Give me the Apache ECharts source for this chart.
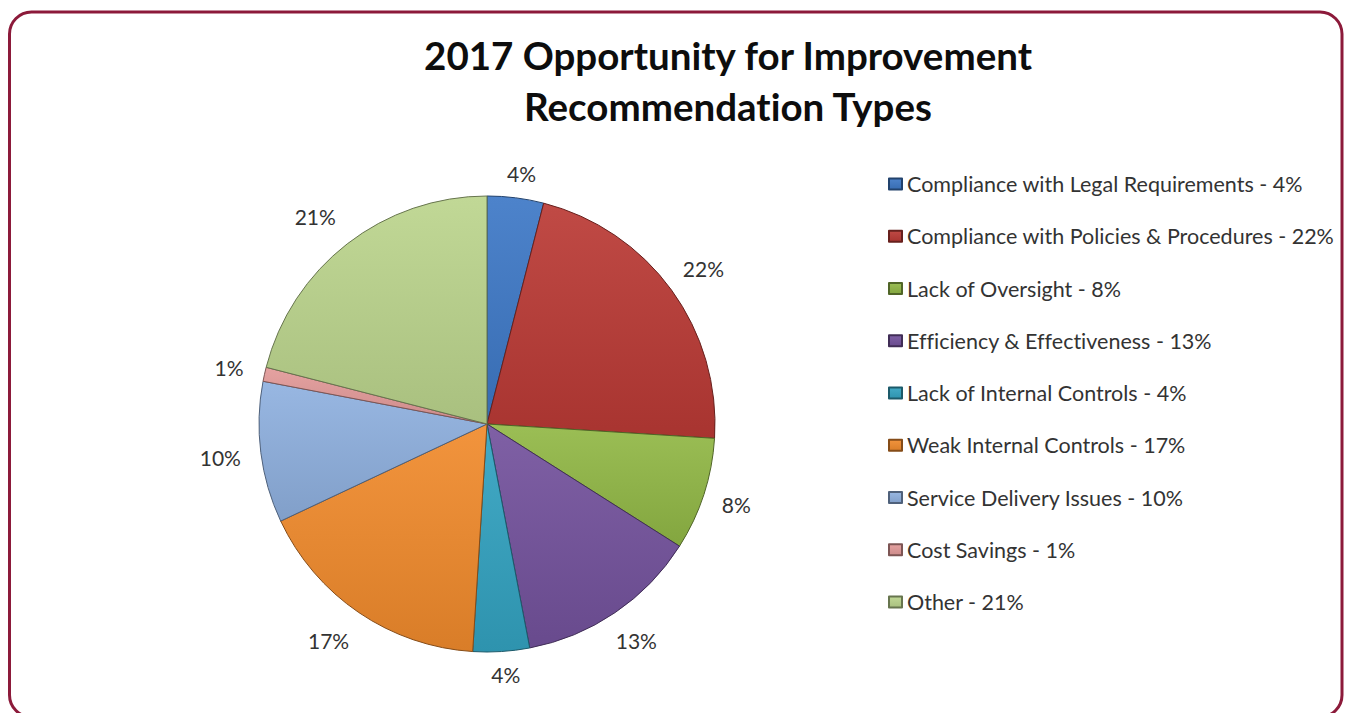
<!DOCTYPE html>
<html>
<head>
<meta charset="utf-8">
<script src="https://cdn.jsdelivr.net/npm/echarts@6/dist/echarts.min.js"></script>
<style>
html,body{margin:0;padding:0;background:#fff;}
#c{width:1346px;height:713px;}
#c text{font-variant-ligatures:none;font-feature-settings:"liga" 0, "clig" 0;}
</style>
</head>
<body>
<div id="c"></div>
<script>
const titleText = '2017 Opportunity for Improvement\nRecommendation Types';
const categories = [
  'Compliance with Legal Requirements',
  'Compliance with Policies & Procedures',
  'Lack of Oversight',
  'Efficiency & Effectiveness',
  'Lack of Internal Controls',
  'Weak Internal Controls',
  'Service Delivery Issues',
  'Cost Savings',
  'Other'
];
const values = [4, 22, 8, 13, 4, 17, 10, 1, 21];
const colors = ['#3d78c6', '#bb3a35', '#92b846', '#74529d', '#33a3c1', '#f18b2c', '#8fb1df', '#e39a99', '#bcd58d'];

function shade(hex, f) {
  const n = parseInt(hex.slice(1), 16);
  let r = (n >> 16) & 255, g = (n >> 8) & 255, b = n & 255;
  if (f >= 0) { r += (255 - r) * f; g += (255 - g) * f; b += (255 - b) * f; }
  else { r *= (1 + f); g *= (1 + f); b *= (1 + f); }
  return 'rgb(' + Math.round(r) + ',' + Math.round(g) + ',' + Math.round(b) + ')';
}

const FONT = 'Lato';
const CX = 487, CY = 424, R = 228;
const total = values.reduce((a, b) => a + b, 0);
const cum = [];
values.reduce((acc, v, i) => { cum[i] = acc + v / 2; return acc + v; }, 0);

const chart = echarts.init(document.getElementById('c'), null, { renderer: 'svg' });
chart.setOption({
  backgroundColor: '#ffffff',
  animation: false,
  title: {
    text: titleText,
    left: 728,
    top: 29,
    padding: 0,
    textAlign: 'center',
    textStyle: { fontFamily: FONT, fontWeight: 'bold', fontSize: 38.5, lineHeight: 51, color: '#0d0d0d' }
  },
  legend: {
    orient: 'vertical',
    left: 888,
    top: 173,
    padding: 0,
    itemWidth: 13,
    itemHeight: 11,
    itemGap: 30.25,
    icon: 'rect',
    selectedMode: false,
    data: categories,
    formatter: function (name) {
      const i = categories.indexOf(name);
      return name + ' - ' + values[i] + '%';
    },
    textStyle: { fontFamily: FONT, fontSize: 21.5, lineHeight: 20, color: '#333333' }
  },
  graphic: [{
    type: 'rect',
    shape: { x: 9.5, y: 12, width: 1332.5, height: 705, r: 22 },
    style: { fill: 'none', stroke: '#8c1a3a', lineWidth: 3 },
    silent: true, z: 100
  }],
  series: [{
    type: 'pie',
    center: [CX, CY],
    radius: [0, R],
    startAngle: 90,
    clockwise: true,
    avoidLabelOverlap: false,
    data: categories.map((n, i) => ({
      name: n,
      value: values[i],
      itemStyle: {
        color: new echarts.graphic.LinearGradient(0, 0, 0, 1, [
          { offset: 0, color: shade(colors[i], 0.08) },
          { offset: 1, color: shade(colors[i], -0.1) }
        ]),
        borderColor: shade(colors[i], -0.45),
        borderWidth: 1
      }
    })),
    label: {
      show: true,
      position: 'outside',
      formatter: '{c}%',
      fontFamily: FONT,
      fontSize: 21,
      color: '#333333'
    },
    labelLine: { show: false, length: 10, length2: 0 },
    labelLayout: function (p) {
      const i = p.dataIndex;
      const a = (cum[i] / total) * Math.PI * 2;
      const ux = Math.sin(a), uy = -Math.cos(a);
      const w = p.labelRect.width, h = p.labelRect.height;
      const ext = Math.abs(ux) * w / 2 + Math.abs(uy) * (h / 2 - 6);
      const d = R + 18 + ext;
      let x = CX + ux * d;
      if (ux < 0) x -= 14 * Math.abs(uy);
      else x += 3 * Math.abs(uy);
      return { x: x, y: CY + uy * d, align: 'center', verticalAlign: 'middle' };
    },
    emphasis: { disabled: true }
  }]
});
</script>
</body>
</html>
